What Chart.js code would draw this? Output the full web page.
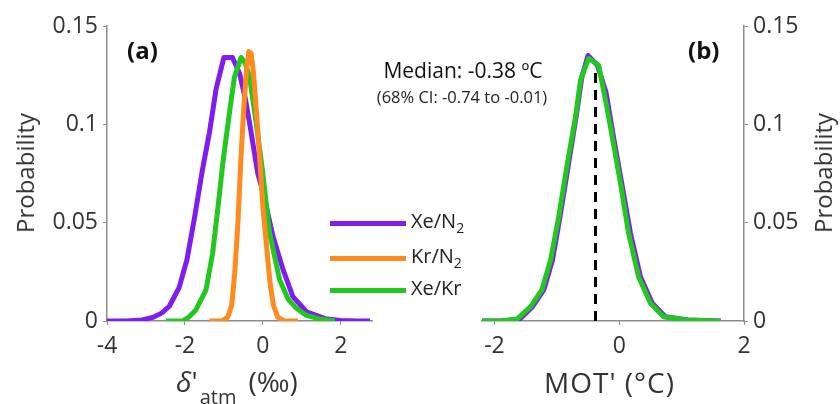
<!DOCTYPE html>
<html>
<head>
<meta charset="utf-8">
<script src="https://cdn.jsdelivr.net/npm/chart.js@4.4.0/dist/chart.umd.min.js"></script>
<style>
  html,body{margin:0;padding:0;background:#fff;}
  #wrap{position:relative;width:840px;height:404px;overflow:hidden;font-family:'Open Sans',sans-serif;color:#222;}
  canvas{position:absolute;top:0;}
  .t{position:absolute;white-space:nowrap;line-height:1;}
  .sw{position:absolute;height:5px;left:330px;width:76px;}
  sub{font-size:0.7em;vertical-align:-0.35em;}
</style>
</head>
<body>
<div id="wrap">
  <canvas id="cA" width="380" height="404" style="left:0"></canvas>
  <canvas id="cB" width="370" height="404" style="left:470px"></canvas>

  <div class="t" style="left:127px;top:38px;font-size:24px;font-weight:bold;color:#111">(a)</div>
  <div class="t" style="left:688px;top:38px;font-size:24px;font-weight:bold;color:#111">(b)</div>

  <div class="t" style="left:463px;top:60px;font-size:21px;color:#111;transform:translateX(-50%)">Median: -0.38 ºC</div>
  <div class="t" style="left:462px;top:89px;font-size:16.5px;color:#222;transform:translateX(-50%)">(68% CI: -0.74 to -0.01)</div>

  <div class="sw" style="top:221px;background:#7f1cf0"></div>
  <div class="sw" style="top:256px;background:#ff8a1e"></div>
  <div class="sw" style="top:288px;background:#22c81e"></div>
  <div class="t" style="left:411px;top:211px;font-size:20px">Xe/N<sub>2</sub></div>
  <div class="t" style="left:411px;top:246px;font-size:20px">Kr/N<sub>2</sub></div>
  <div class="t" style="left:411px;top:278px;font-size:20px">Xe/Kr</div>

  <div class="t" style="left:25px;top:173px;font-size:24px;color:#333;transform:translate(-50%,-50%) rotate(-90deg)">Probability</div>
  <div class="t" style="left:823px;top:173px;font-size:24px;color:#333;transform:translate(-50%,-50%) rotate(-90deg)">Probability</div>

  <div class="t" style="left:176px;top:367px;font-size:28px;color:#333"><i>δ</i>'<span style="font-size:20px;position:relative;top:12px;margin-left:2px">atm</span><span style="margin-left:12px">(‰)</span></div>
  <div class="t" style="left:544px;top:368px;font-size:28px;color:#333;letter-spacing:1px">MOT' (°C)</div>
</div>

<script>
// panel (a): delta'atm distributions
const xeN2A = [[-4,0],[-3.5,0],[-3.1,0.0005],[-2.8,0.002],[-2.6,0.004],[-2.4,0.0075],[-2.15,0.017],[-1.95,0.031],
  [-1.75,0.053],[-1.55,0.077],[-1.37,0.096],[-1.2,0.118],[-1.0,0.134],[-0.78,0.134],[-0.6,0.126],[-0.45,0.113],
  [-0.34,0.1005],[-0.13,0.075],[0,0.066],[0.26,0.043],[0.52,0.026],[0.77,0.0124],[1.12,0.0047],[1.6,0.0012],
  [2.0,0.0003],[2.4,0],[2.75,0]];
const krN2A = [[-1.37,0],[-1.05,0],[-0.9,0.002],[-0.8,0.008],[-0.72,0.025],[-0.64,0.05],[-0.57,0.08],[-0.5,0.105],
  [-0.42,0.128],[-0.36,0.137],[-0.3,0.136],[-0.24,0.126],[-0.16,0.105],[-0.08,0.082],[0,0.058],[0.09,0.039],
  [0.18,0.02],[0.27,0.008],[0.38,0.002],[0.55,0],[0.9,0]];
const xeKrA = [[-2.49,0],[-2.06,0],[-1.9,0.002],[-1.72,0.0056],[-1.46,0.0158],[-1.29,0.0344],[-1.16,0.0564],
  [-1.03,0.08],[-0.86,0.1056],[-0.73,0.124],[-0.56,0.134],[-0.45,0.131],[-0.34,0.124],[-0.17,0.1005],
  [-0.02,0.078],[0.17,0.045],[0.43,0.021],[0.65,0.011],[0.86,0.0065],[1.1,0.003],[1.46,0.001],[1.85,0]];

// panel (b): MOT' distributions
const xeN2B = [[-2.2,0],[-1.9,0],[-1.6,0.0008],[-1.39,0.0073],[-1.21,0.0158],[-1.07,0.031],[-0.95,0.053],
  [-0.82,0.0785],[-0.69,0.104],[-0.6,0.124],[-0.5,0.135],[-0.35,0.13],[-0.21,0.116],[-0.1,0.095],[0.04,0.07],
  [0.18,0.0446],[0.34,0.0225],[0.53,0.009],[0.74,0.0022],[1.1,0.0005],[1.63,0]];
const xeKrB = [[-2.2,0],[-1.9,0],[-1.64,0.001],[-1.42,0.0073],[-1.24,0.0158],[-1.1,0.031],[-0.97,0.053],
  [-0.84,0.0785],[-0.7,0.104],[-0.62,0.1225],[-0.49,0.1336],[-0.33,0.13],[-0.2,0.109],[-0.12,0.095],
  [0.02,0.07],[0.15,0.0446],[0.31,0.0225],[0.5,0.009],[0.71,0.0022],[1.08,0.0005],[1.63,0]];
const medianX = -0.38;
const medianTop = 0.129;

const xTicksA = [-4,-2,0,2];
const xTicksB = [-2,0,2];
const yTicks = [0,0.05,0.1,0.15];
const yTickLabels = ['0','0.05','0.1','0.15'];

const PURPLE = '#7f1cf0', ORANGE = '#ff8a1e', GREEN = '#22c81e';
const AXIS = '#8c8c8c';
const tickFont = {family:"'Open Sans', sans-serif", size:23};

const pts = arr => arr.map(([x,y]) => ({x,y}));
const line = (data, color, order) => ({data: pts(data), borderColor: color, borderWidth: 5, pointRadius: 0,
  tension: 0, fill: false, order, borderJoinStyle: 'round'});

function yScale(pos, width){
  return {
    type:'linear', position: pos, min:0, max:0.15,
    afterBuildTicks: s => { s.ticks = yTicks.map(v => ({value:v})); },
    afterFit: s => { s.width = width; },
    ticks:{ color:'#333', font: tickFont, padding:5,
      callback: (v) => yTickLabels[yTicks.indexOf(v)] ?? '' },
    grid:{ drawOnChartArea:false, drawTicks:true, tickLength:4, color:AXIS },
    border:{ display:true, color:AXIS, width:1.5 }
  };
}
function xScale(min, max, ticks){
  return {
    type:'linear', min, max,
    afterBuildTicks: s => { s.ticks = ticks.map(v => ({value:v})); },
    afterFit: s => { s.height = 83; },
    ticks:{ color:'#333', font: tickFont, padding:8, maxRotation:0,
      callback: v => String(v) },
    grid:{ drawOnChartArea:false, drawTicks:true, tickLength:4, color:AXIS },
    border:{ display:true, color:AXIS, width:1.5 }
  };
}
const common = {
  responsive:false, animation:false,
  plugins:{ legend:{display:false}, tooltip:{enabled:false} }
};

new Chart(document.getElementById('cA'), {
  type:'line',
  data:{ datasets:[ line(krN2A, ORANGE, 0), line(xeKrA, GREEN, 1), line(xeN2A, PURPLE, 2) ] },
  options:{ ...common,
    layout:{ padding:{top:26, right:8, left:0, bottom:0} },
    scales:{ x: xScale(-4, 2.8, xTicksA), y: yScale('left', 107) }
  }
});

new Chart(document.getElementById('cB'), {
  type:'line',
  data:{ datasets:[
    {data:[{x:medianX,y:0},{x:medianX,y:medianTop}], borderColor:'#000', borderWidth:3, borderDash:[10,7],
      pointRadius:0, fill:false, order:-1},
    line(xeKrB, GREEN, 0), line(xeN2B, PURPLE, 1) ] },
  options:{ ...common,
    layout:{ padding:{top:26, right:0, left:12, bottom:0} },
    scales:{ x: xScale(-2.2, 2, xTicksB), y: yScale('right', 96) }
  }
});
</script>
</body>
</html>
